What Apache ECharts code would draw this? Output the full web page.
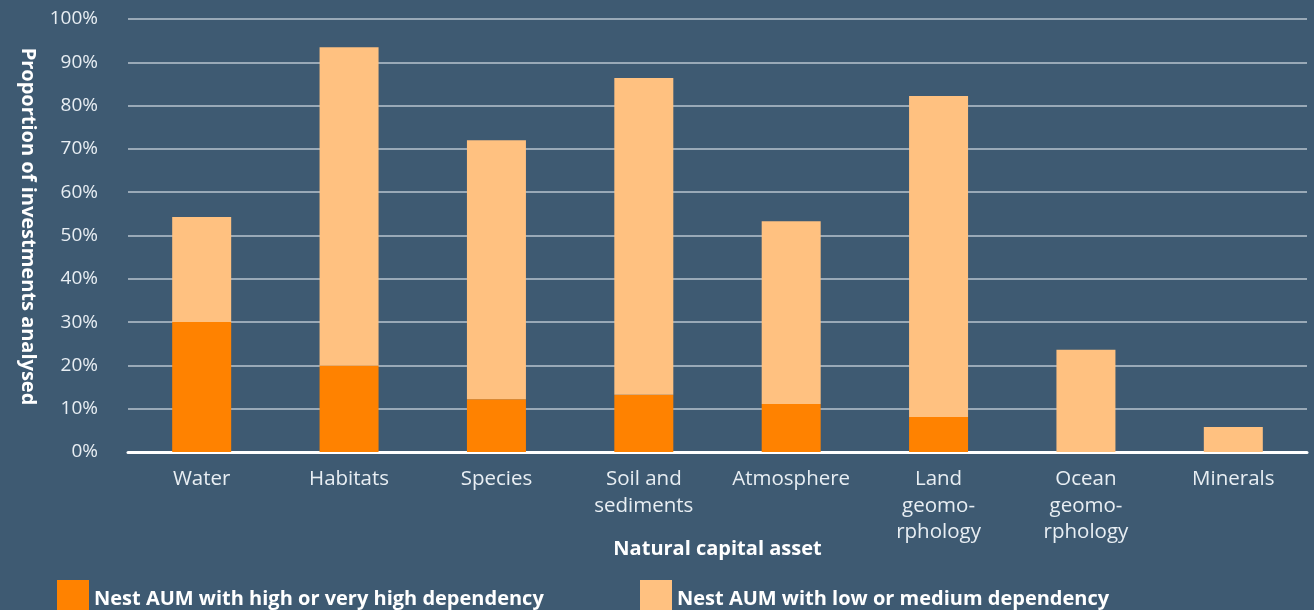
<!DOCTYPE html>
<html>
<head>
<meta charset="utf-8">
<script src="https://cdn.jsdelivr.net/npm/echarts@6/dist/echarts.min.js"></script>
<style>
html,body{margin:0;padding:0;background:#3e5a72;}
#chart{width:1314px;height:610px;}
</style>
</head>
<body>
<div id="chart"></div>
<script>
const categories = ["Water", "Habitats", "Species", "Soil and\nsediments", "Atmosphere", "Land\ngeomo-\nrphology", "Ocean\ngeomo-\nrphology", "Minerals"];
const highDependency = [30.0, 20.0, 12.2, 13.2, 11.1, 8.1, 0, 0];
const lowMediumDependency = [24.3, 73.5, 59.8, 73.2, 42.2, 74.1, 23.6, 5.8];
const seriesNames = ["Nest AUM with high or very high dependency", "Nest AUM with low or medium dependency"];
const yTicks = { min: 0, max: 100, interval: 10 };

const FONT = '"Open Sans", Lato, sans-serif';
const legendText = { color: '#ffffff', fontSize: 20, fontWeight: 'bold', fontFamily: FONT };
const chart = echarts.init(document.getElementById('chart'));
chart.setOption({
  backgroundColor: '#3e5a72',
  animation: false,
  grid: { left: 128, right: 7, top: 19, bottom: 158, containLabel: false },
  legend: [
    { data: [seriesNames[0]], left: 52, top: 575, itemWidth: 32, itemHeight: 32, itemGap: 6,
      icon: 'rect', formatter: '{t|{name}}', textStyle: { ...legendText, rich: { t: { ...legendText, padding: [6, 0, 0, 0] } } } },
    { data: [seriesNames[1]], left: 635, top: 575, itemWidth: 32, itemHeight: 32, itemGap: 6,
      icon: 'rect', formatter: '{t|{name}}', textStyle: { ...legendText, rich: { t: { ...legendText, padding: [6, 0, 0, 0] } } } }
  ],
  xAxis: {
    type: 'category',
    data: categories,
    name: 'Natural capital asset',
    nameLocation: 'middle',
    nameGap: 87,
    nameMoveOverlap: false,
    nameTextStyle: { color: '#ffffff', fontSize: 20, fontWeight: 'bold', fontFamily: FONT },
    axisLine: { show: true, lineStyle: { color: '#ffffff', width: 3 } },
    axisTick: { show: false },
    axisLabel: { color: '#e8eef3', fontSize: 20.5, fontFamily: FONT, margin: 14, lineHeight: 26.5, interval: 0 }
  },
  yAxis: {
    type: 'value',
    min: yTicks.min, max: yTicks.max, interval: yTicks.interval,
    name: 'Proportion of investments analysed',
    nameLocation: 'middle',
    nameGap: 90,
    nameMoveOverlap: false,
    nameRotate: -90,
    nameTextStyle: { color: '#ffffff', fontSize: 20, fontWeight: 'bold', fontFamily: FONT, padding: [0, 18, 0, 0] },
    axisLabel: { formatter: '{value}%', color: '#e8eef3', fontSize: 19, fontFamily: FONT, margin: 30 },
    axisLine: { show: false },
    axisTick: { show: false },
    splitLine: { show: true, lineStyle: { color: '#b8c4cf', width: 1.5 } }
  },
  series: [
    { name: seriesNames[0], type: 'bar', stack: 'total', data: highDependency, barWidth: 59,
      itemStyle: { color: '#ff8200' } },
    { name: seriesNames[1], type: 'bar', stack: 'total', data: lowMediumDependency, barWidth: 59,
      itemStyle: { color: '#ffc180' } }
  ]
});
</script>
</body>
</html>
